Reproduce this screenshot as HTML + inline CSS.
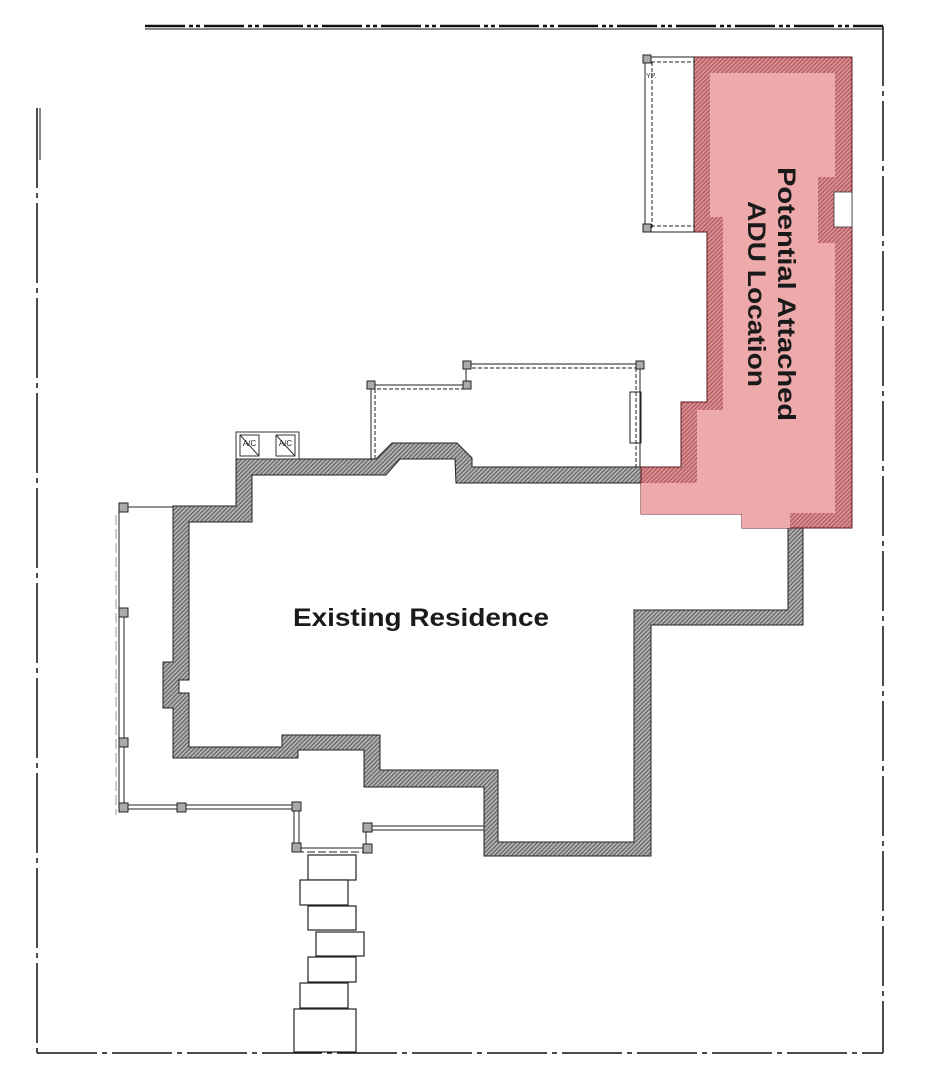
<!DOCTYPE html>
<html><head><meta charset="utf-8"><style>
html,body{margin:0;padding:0;background:#fff}
svg{display:block}
</style></head><body>
<svg width="925" height="1080" viewBox="0 0 925 1080" xmlns="http://www.w3.org/2000/svg">
<defs>
<pattern id="h" width="3" height="3" patternUnits="userSpaceOnUse" patternTransform="rotate(45)">
<rect width="3" height="3" fill="#b8b8b8"/><rect width="1.4" height="3" fill="#6a6a6a"/>
</pattern>
<pattern id="hp" width="3" height="3" patternUnits="userSpaceOnUse" patternTransform="rotate(45)">
<rect width="3" height="3" fill="#dc9497"/><rect width="1.3" height="3" fill="#b0585e"/>
</pattern>
</defs>
<g fill="none" stroke="#111">
<line x1="145" y1="26" x2="883" y2="26" stroke-width="2.5" stroke-dasharray="40,4,4,3,4,4"/>
<line x1="145" y1="29" x2="883" y2="29" stroke-width="1"/>
<line x1="883" y1="26" x2="883" y2="1053" stroke-width="1.5" stroke-dasharray="60,5,5,5"/>
<line x1="37" y1="108" x2="37" y2="1053" stroke-width="1.5" stroke-dasharray="80,5,5,5"/>
<line x1="40" y1="108" x2="40" y2="160" stroke-width="1"/>
<line x1="37" y1="1053" x2="883" y2="1053" stroke-width="1.5" stroke-dasharray="60,5,5,5"/>
</g>
<path fill-rule="evenodd" fill="url(#h)" stroke="#222" stroke-width="1"
d="M173,506 L236,506 L236,459 L376,459 L392,443 L457,443 L472,458 L472,467 L803,467 L803,625 L651,625 L651,856 L484,856 L484,787 L364,787 L364,750 L298,750 L298,758 L173,758 L173,708 L163,708 L163,662 L173,662 Z
M189,522 L252,522 L252,475 L386,475 L400,459 L455,459 L456,483 L788,483 L788,610 L634,610 L634,842 L498,842 L498,770 L380,770 L380,735 L282,735 L282,747 L189,747 L189,693 L179,693 L179,680 L189,680 Z"/>
<path fill="url(#hp)" stroke="#5a1a1e" stroke-width="1"
d="M641,467 L681,467 L681,402 L707,402 L707,232 L694,232 L694,57 L852,57 L852,528 L742,528 L742,514 L641,514 Z"/>
<path fill="#eeaaab"
d="M641,483 L697,483 L697,410 L723,410 L723,217 L710,217 L710,73 L835,73 L835,177 L818,177 L818,243 L835,243 L835,513 L790,513 L790,528 L742,528 L742,514 L641,514 Z"/>
<rect x="834" y="192" width="18" height="35" fill="#fff" stroke="#333" stroke-width="0.8"/>
<g fill="none" stroke="#222" stroke-width="1">
<rect x="645" y="57" width="49" height="175"/>
<line x1="652" y1="62" x2="652" y2="228" stroke-dasharray="4,2"/>
<line x1="645" y1="62" x2="694" y2="62" stroke-dasharray="4,2"/>
<line x1="645" y1="226" x2="694" y2="226" stroke-dasharray="4,2"/>
<line x1="371" y1="385" x2="471" y2="385"/>
<line x1="371" y1="389" x2="471" y2="389" stroke-dasharray="4,2"/>
<line x1="466" y1="364" x2="640" y2="364"/>
<line x1="466" y1="368" x2="640" y2="368" stroke-dasharray="4,2"/>
<line x1="371" y1="385" x2="371" y2="460"/>
<line x1="375" y1="389" x2="375" y2="460" stroke-dasharray="4,2"/>
<line x1="640" y1="364" x2="640" y2="467"/>
<line x1="636" y1="368" x2="636" y2="467" stroke-dasharray="4,2"/>
<line x1="466" y1="364" x2="466" y2="389"/>
<rect x="630" y="392" width="11" height="51"/>
<line x1="125" y1="507" x2="173" y2="507"/>
<line x1="119" y1="507" x2="119" y2="810"/>
<line x1="124" y1="612" x2="124" y2="810"/>
<line x1="116" y1="515" x2="116" y2="815" stroke="#999" stroke-dasharray="10,4"/>
<line x1="120" y1="805" x2="298" y2="805"/>
<line x1="120" y1="809" x2="298" y2="809"/>
<line x1="294" y1="807" x2="294" y2="850"/>
<line x1="299" y1="807" x2="299" y2="850"/>
<line x1="296" y1="848" x2="370" y2="848"/>
<line x1="296" y1="852" x2="370" y2="852" stroke-dasharray="8,3"/>
<line x1="368" y1="826" x2="484" y2="826"/>
<line x1="368" y1="830" x2="484" y2="830"/>
<line x1="366" y1="828" x2="366" y2="850"/>
</g>
<g fill="#aaa" stroke="#222" stroke-width="1">
<rect x="643" y="55" width="8" height="8"/><rect x="643" y="224" width="8" height="8"/>
<rect x="367" y="381" width="8" height="8"/><rect x="463" y="381" width="8" height="8"/>
<rect x="463" y="361" width="8" height="8"/><rect x="636" y="361" width="8" height="8"/>
<rect x="119" y="503" width="9" height="9"/><rect x="119" y="608" width="9" height="9"/>
<rect x="119" y="738" width="9" height="9"/><rect x="119" y="803" width="9" height="9"/>
<rect x="177" y="803" width="9" height="9"/><rect x="292" y="802" width="9" height="9"/>
<rect x="292" y="843" width="9" height="9"/><rect x="363" y="823" width="9" height="9"/>
<rect x="363" y="844" width="9" height="9"/>
</g>
<g fill="#fff" stroke="#333" stroke-width="1">
<rect x="236" y="432" width="63" height="27"/>
<rect x="240" y="435" width="19" height="21"/><line x1="240" y1="435" x2="259" y2="456"/>
<rect x="276" y="435" width="19" height="21"/><line x1="276" y1="435" x2="295" y2="456"/>
</g>
<text x="249.5" y="446" font-family="Liberation Sans, sans-serif" font-size="8" text-anchor="middle" fill="#222">A/C</text>
<text x="285.5" y="446" font-family="Liberation Sans, sans-serif" font-size="8" text-anchor="middle" fill="#222">A/C</text>
<text x="646" y="78" font-family="Liberation Sans, sans-serif" font-size="7" fill="#333">YP.</text>
<g fill="#fff" stroke="#222" stroke-width="1.2">
<rect x="308" y="855" width="48" height="25"/>
<rect x="300" y="880" width="48" height="25"/>
<rect x="308" y="906" width="48" height="24"/>
<rect x="316" y="932" width="48" height="24"/>
<rect x="308" y="957" width="48" height="25"/>
<rect x="300" y="983" width="48" height="25"/>
<rect x="294" y="1009" width="62" height="43"/>
</g>
<text x="421" y="626" font-family="Liberation Sans, sans-serif" font-size="25" font-weight="bold" text-anchor="middle" fill="#1a1a1a" textLength="256" lengthAdjust="spacingAndGlyphs">Existing Residence</text>
<g transform="translate(776,294) rotate(90)" font-family="Liberation Sans, sans-serif" font-size="25" font-weight="bold" fill="#1a1a1a" text-anchor="middle">
<text x="0" y="-2" textLength="254" lengthAdjust="spacingAndGlyphs">Potential Attached</text>
<text x="0" y="28" textLength="186" lengthAdjust="spacingAndGlyphs">ADU Location</text>
</g>
</svg>
</body></html>
